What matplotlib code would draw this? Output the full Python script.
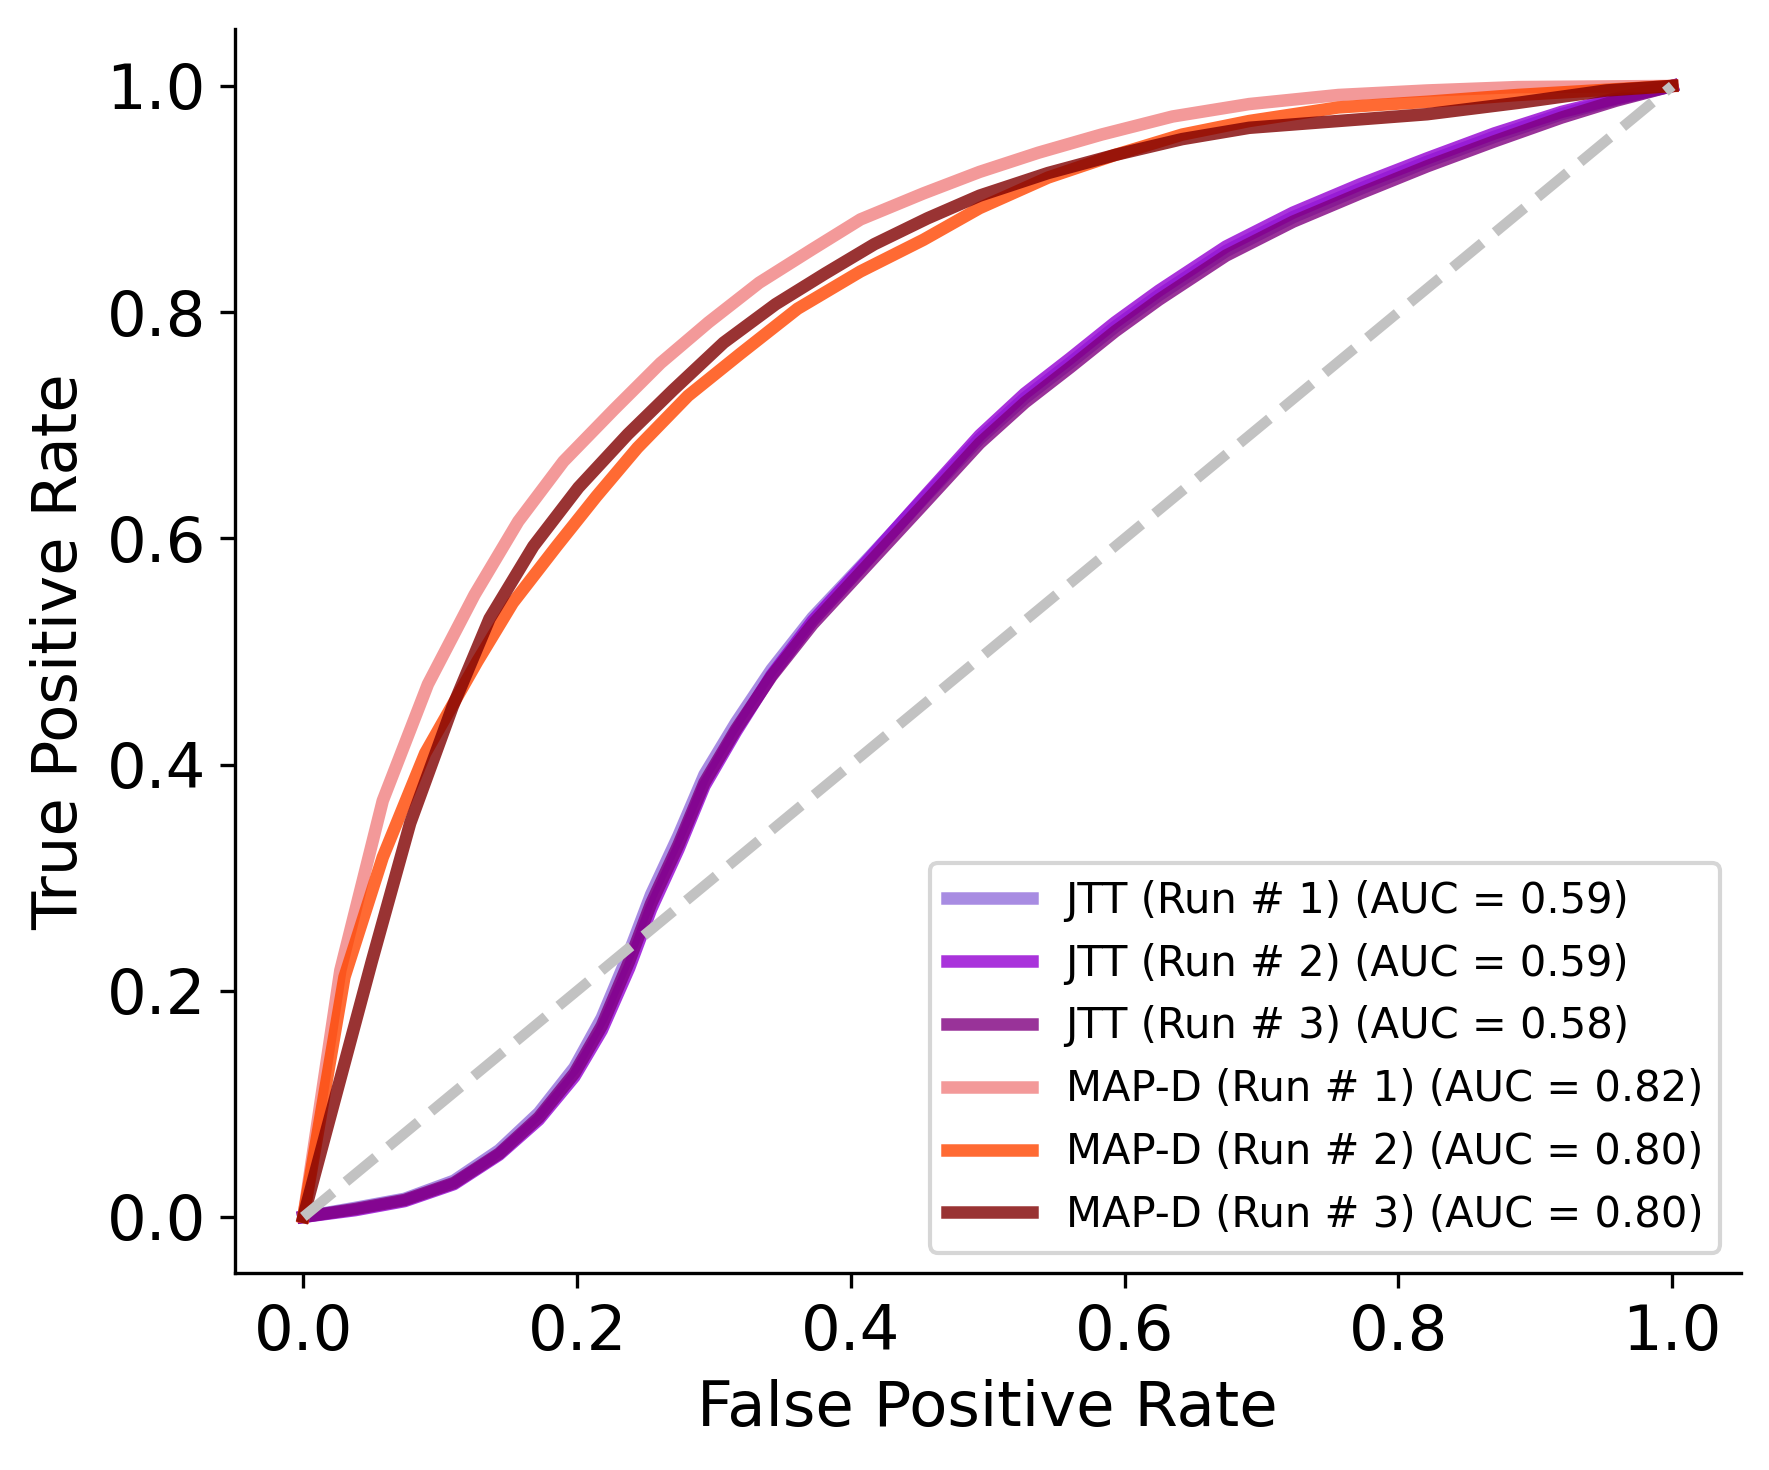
import matplotlib
matplotlib.use("Agg")
from matplotlib import pyplot as plt

# ROC curves (false positive rate, true positive rate)
jtt_fpr = [0, 0.038, 0.074, 0.110, 0.143, 0.172, 0.198, 0.218, 0.238, 0.254, 0.274, 0.293,
           0.316, 0.342, 0.372, 0.414, 0.453, 0.494, 0.527, 0.560, 0.593, 0.625, 0.674,
           0.723, 0.772, 0.821, 0.870, 0.919, 0.959, 1.0]
jtt_run1_tpr = [0, 0.008, 0.016, 0.032, 0.059, 0.092, 0.132, 0.176, 0.234, 0.285, 0.337, 0.391,
                0.437, 0.484, 0.530, 0.584, 0.635, 0.688, 0.724, 0.755, 0.787, 0.815, 0.854,
                0.884, 0.909, 0.933, 0.955, 0.975, 0.988, 1.0]
jtt_run2_tpr = [0, 0.006, 0.014, 0.029, 0.055, 0.086, 0.124, 0.165, 0.220, 0.272, 0.325, 0.381,
                0.429, 0.479, 0.527, 0.583, 0.636, 0.691, 0.728, 0.759, 0.791, 0.819, 0.858,
                0.888, 0.913, 0.936, 0.958, 0.977, 0.989, 1.0]
jtt_run3_tpr = [0, 0.007, 0.015, 0.030, 0.056, 0.088, 0.127, 0.169, 0.226, 0.277, 0.329, 0.384,
                0.431, 0.478, 0.524, 0.579, 0.630, 0.684, 0.720, 0.751, 0.783, 0.811, 0.850,
                0.880, 0.905, 0.929, 0.951, 0.972, 0.987, 1.0]

mapd_run1_fpr = [0, 0.027, 0.058, 0.091, 0.125, 0.157, 0.190, 0.227, 0.261, 0.296, 0.333, 0.371,
                 0.407, 0.453, 0.494, 0.537, 0.583, 0.635, 0.691, 0.756, 0.821, 0.887, 1.0]
mapd_run1_tpr = [0, 0.218, 0.368, 0.471, 0.550, 0.615, 0.668, 0.714, 0.755, 0.791, 0.826, 0.855,
                 0.882, 0.905, 0.924, 0.941, 0.957, 0.973, 0.984, 0.992, 0.996, 0.999, 1.0]

mapd_run2_fpr = [0, 0.030, 0.058, 0.089, 0.127, 0.153, 0.185, 0.214, 0.244, 0.281, 0.319, 0.361,
                 0.407, 0.453, 0.494, 0.544, 0.593, 0.642, 0.691, 0.756, 0.821, 0.887, 1.0]
mapd_run2_tpr = [0, 0.212, 0.318, 0.410, 0.491, 0.543, 0.593, 0.637, 0.680, 0.726, 0.763, 0.803,
                 0.836, 0.864, 0.892, 0.919, 0.939, 0.957, 0.969, 0.981, 0.986, 0.992, 1.0]

mapd_run3_fpr = [0, 0.050, 0.078, 0.109, 0.136, 0.168, 0.201, 0.237, 0.270, 0.307, 0.345, 0.381,
                 0.417, 0.456, 0.494, 0.544, 0.593, 0.642, 0.691, 0.756, 0.821, 0.887, 0.952, 1.0]
mapd_run3_tpr = [0, 0.226, 0.348, 0.451, 0.529, 0.593, 0.645, 0.692, 0.731, 0.773, 0.807, 0.834,
                 0.860, 0.883, 0.903, 0.923, 0.939, 0.953, 0.963, 0.969, 0.975, 0.985, 0.996, 1.0]

labels = ["JTT (Run # 1) (AUC = 0.59)", "JTT (Run # 2) (AUC = 0.59)", "JTT (Run # 3) (AUC = 0.58)",
          "MAP-D (Run # 1) (AUC = 0.82)", "MAP-D (Run # 2) (AUC = 0.80)", "MAP-D (Run # 3) (AUC = 0.80)"]
colors = ["mediumpurple", "darkviolet", "purple", "lightcoral", "orangered", "maroon"]

curves = [(jtt_fpr, jtt_run1_tpr), (jtt_fpr, jtt_run2_tpr), (jtt_fpr, jtt_run3_tpr),
          (mapd_run1_fpr, mapd_run1_tpr), (mapd_run2_fpr, mapd_run2_tpr), (mapd_run3_fpr, mapd_run3_tpr)]

fig, ax = plt.subplots(figsize=(1769 / 300, 1470 / 300), dpi=300)
fig.subplots_adjust(left=0.1328, right=0.984, top=0.980, bottom=0.1337)

for (fpr, tpr), lab, col in zip(curves, labels, colors):
    ax.plot(fpr, tpr, color=col, alpha=0.8, lw=3, label=lab)

# chance line
ax.plot([0, 1], [0, 1], linestyle="--", color="#c2c2c2", lw=2.5)

ax.spines["top"].set_visible(False)
ax.spines["right"].set_visible(False)
ax.tick_params(labelsize=15)
ax.set_xlabel("False Positive Rate", fontsize=15)
ax.set_ylabel("True Positive Rate", fontsize=15)
ax.legend(loc="lower right", fontsize=10, handlelength=2.05)

fig.savefig("out.png", dpi=300)
